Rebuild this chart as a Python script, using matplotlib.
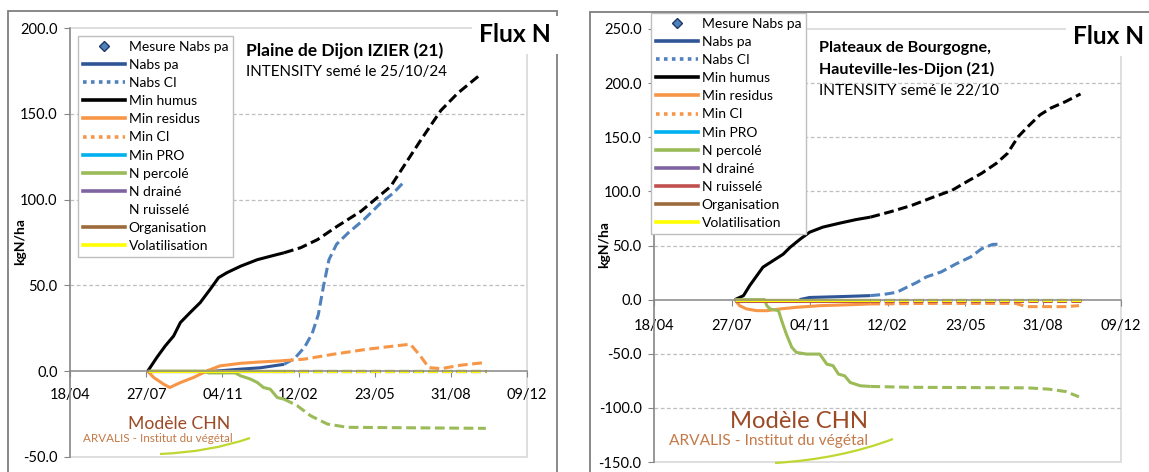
import numpy as np
import matplotlib
matplotlib.use("Agg")
import matplotlib.pyplot as plt
from matplotlib.lines import Line2D
from matplotlib.patches import Rectangle, PathPatch
from matplotlib.path import Path

plt.rcParams['font.family'] = ['Lato', 'DejaVu Sans']

# ==========================================
# DONNEES (jours depuis le 18/04/2024)
# ==========================================
x_ticks = [0, 100, 200, 300, 400, 500, 600]
x_tick_labels = ["18/04", "27/07", "04/11", "12/02", "23/05", "31/08", "09/12"]

# --- Graphique gauche : Plaine de Dijon IZIER ---
coupure_g = 281
debut_g, fin_g = 102, 546

humus_g_j = [102, 114, 125, 136, 145, 158, 171, 184, 195, 206, 224, 246, 272, 281,
             303, 325, 351, 382, 421, 439, 461, 487, 509, 540]
humus_g_v = [0, 8, 14.7, 20.5, 28.4, 34.3, 40, 47.7, 54.5, 57.4, 61.2, 65, 68, 69,
             72, 76.7, 84.5, 93.2, 107.7, 120, 135, 152, 162, 173.3]

nabs_g_j = [190, 224, 250, 267, 281, 295, 308, 318, 326, 333, 340, 350, 365, 386, 408, 425, 439]
nabs_g_v = [0, 1.2, 2, 3.1, 4, 7.5, 14, 22, 33, 50, 65, 74, 80.5, 88.4, 98, 104, 110.6]

resid_g_j = [102, 110, 123, 131, 145, 162, 180, 197, 224, 250, 276, 281,
             307, 346, 390, 434, 447, 460, 471, 487, 513, 544]
resid_g_v = [0, -3.7, -7.6, -9.5, -6.6, -3.7, 0.2, 3.1, 4.6, 5.4, 6, 6.2,
             7, 9.9, 12.8, 15.1, 15.7, 8.9, 2.1, 1.5, 3.5, 5]

perco_g_j = [102, 176, 182, 217, 224, 237, 246, 254, 263, 272, 281, 298, 316, 338, 364, 546]
perco_g_v = [0, 0, -1, -1, -2.7, -4.6, -6.6, -9.5, -10.5, -15.3, -16.3, -20, -26, -30.8, -32.7, -33.3]

# --- Graphique droit : Plateaux de Bourgogne ---
coupure_d = 278
debut_d, fin_d = 104, 548

humus_d_j = [104, 115, 123, 132, 140, 153, 166, 175, 188, 200, 217, 239, 260, 278,
             303, 331, 360, 383, 402, 421, 440, 454, 468, 482, 496, 510, 529, 548]
humus_d_v = [0, 3.7, 13, 22, 30, 36, 42, 48.4, 56, 62.3, 67, 70.7, 74, 76.2,
             81, 87, 95, 101, 109, 116.7, 126, 135, 150.6, 161, 170.7, 177, 183, 190]

nabs_d_j = [187, 200, 240, 278, 295, 312, 325, 338, 350, 369, 388, 407, 421, 435, 444]
nabs_d_v = [0, 2, 2.8, 3.7, 4.8, 6.8, 11.5, 16, 21, 25.6, 33, 39.5, 47, 51, 51.2]

resid_d_j = [104, 110, 119, 132, 145, 162, 183, 213, 256, 278, 350, 465, 478, 530, 546]
resid_d_v = [0, -5.6, -8.6, -10.2, -10.2, -8.6, -7.1, -5.6, -4.6, -4, -3.5, -3.5, -6.5, -6.5, -5.5]

perco_d_j = [104, 142, 145, 149, 160, 164, 170, 177, 183, 196, 213, 222, 230, 237, 245,
             252, 265, 278, 330, 480, 507, 529, 546]
perco_d_v = [0, 0, -5.6, -8.6, -10.2, -19.4, -31.8, -44, -48.8, -50.3, -50.3, -59.6, -61,
             -68.8, -70.4, -76.5, -79.6, -80.2, -81, -81.5, -82.7, -84.9, -89.8]

ruiss_d_v = -1.0

# ==========================================
# STYLE
# ==========================================
W, H = 1149, 472
c_nabs = '#2F5597'
c_nabsci = '#4F81BD'
c_humus = '#000000'
c_resid = '#F79646'
c_pro = '#00B0F0'
c_perco = '#9BBB59'
c_drain = '#8064A2'
c_ruiss = '#C0504D'
c_orga = '#9C6B3C'
c_vola = '#FFFF00'
LW = 2.2
TIRETS = (0, (3.2, 1.5))


def fx(x):
    return x / W


def fy(y):
    return 1 - y / H


def trace(ax, jours, valeurs, couleur, coupure, couleur_prev=None, z=2):
    """Trait plein jusqu'a la date de coupure, tirets ensuite."""
    j = np.asarray(jours, float)
    v = np.asarray(valeurs, float)
    vc = np.interp(coupure, j, v)
    m1 = j < coupure
    m2 = j > coupure
    if m1.any():
        ax.plot(np.r_[j[m1], coupure], np.r_[v[m1], vc], color=couleur, lw=LW,
                solid_capstyle='butt', solid_joinstyle='round', zorder=z)
    if m2.any():
        ax.plot(np.r_[coupure, j[m2]], np.r_[vc, v[m2]], color=couleur_prev or couleur,
                lw=LW, ls=TIRETS, dash_capstyle='butt', zorder=z)


def legende(ax, x0, y0, ruiss_visible):
    h = [
        Line2D([], [], marker='D', ls='none', mfc=c_nabsci, mec='#1F3864', ms=5, mew=1),
        Line2D([], [], color=c_nabs, lw=2.6),
        Line2D([], [], color=c_nabsci, lw=2.6, ls=(0, (1, 1.2))),
        Line2D([], [], color=c_humus, lw=2.6),
        Line2D([], [], color=c_resid, lw=2.6),
        Line2D([], [], color=c_resid, lw=2.6, ls=(0, (1, 1.2))),
        Line2D([], [], color=c_pro, lw=2.6),
        Line2D([], [], color=c_perco, lw=2.6),
        Line2D([], [], color=c_drain, lw=2.6),
        Line2D([], [], color=c_ruiss if ruiss_visible else 'none', lw=2.6),
        Line2D([], [], color=c_orga, lw=2.6),
        Line2D([], [], color=c_vola, lw=2.6),
    ]
    noms = ["Mesure Nabs pa", "Nabs pa", "Nabs CI", "Min humus", "Min residus", "Min CI",
            "Min PRO", "N percolé", "N drainé", "N ruisselé", "Organisation", "Volatilisation"]
    leg = ax.legend(h, noms, loc='upper left', bbox_to_anchor=(fx(x0), fy(y0)),
                    bbox_transform=ax.figure.transFigure, borderaxespad=0, fontsize=10,
                    handlelength=3.0, handletextpad=0.3, labelspacing=0.44, borderpad=0.35,
                    numpoints=1, frameon=True, fancybox=False, framealpha=1)
    leg.get_frame().set_edgecolor('#bfbfbf')
    leg.get_frame().set_linewidth(1)
    leg.set_zorder(10)


def habillage(ax, ymin, ymax, pas):
    ax.set_xlim(0, 600)
    ax.set_ylim(ymin, ymax)
    ax.set_xticks(x_ticks)
    ax.set_xticklabels(x_tick_labels)
    ax.set_yticks(np.arange(ymin, ymax + 1, pas))
    ax.set_yticklabels([f"{v:.1f}" for v in np.arange(ymin, ymax + 1, pas)])
    ax.tick_params(axis='both', labelsize=10.5, color='#868686', length=4, direction='out')
    ax.tick_params(axis='y', pad=5)
    ax.tick_params(axis='x', pad=8)
    ax.spines['bottom'].set_position(('data', 0))
    for s in ['top', 'right']:
        ax.spines[s].set_visible(False)
    for s in ['left', 'bottom']:
        ax.spines[s].set_color('#868686')
        ax.spines[s].set_linewidth(1.1)
    ax.add_patch(Rectangle((0, 0), 1, 1, transform=ax.transAxes, fill=False,
                           ec='#d9d9d9', lw=1.2, zorder=0.5, clip_on=False))
    for v in np.arange(ymin + pas, ymax, pas):
        if v != 0:
            ax.axhline(v, color='#bfbfbf', lw=0.9, ls=(0, (3, 2)), zorder=0.6)


def texte(x, y, s, largeur, **kw):
    t = fig.text(fx(x), fy(y), s, va='center', **kw)
    r = fig.canvas.get_renderer()
    for _ in range(3):
        w = t.get_window_extent(r).width
        t.set_fontsize(t.get_fontsize() * largeur / w)
    return t


def swoosh(p0, p1, p2):
    pts = [(fx(p[0]), fy(p[1])) for p in (p0, p1, p2)]
    chemin = Path(pts, [Path.MOVETO, Path.CURVE3, Path.CURVE3])
    fig.add_artist(PathPatch(chemin, transform=fig.transFigure, fill=False,
                             ec='#BFD730', lw=1.6))


# ==========================================
# FIGURE
# ==========================================
fig = plt.figure(figsize=(W / 100, H / 100), dpi=100)
fig.patch.set_facecolor('white')

# cadres des deux graphiques
fig.add_artist(Rectangle((fx(8), -0.05), fx(557 - 8), fy(11) + 0.05,
                         transform=fig.transFigure, fill=False, ec='#7f7f7f', lw=1.3))
fig.add_artist(Rectangle((fx(590), -0.05), 1.0, fy(12) + 0.05,
                         transform=fig.transFigure, fill=False, ec='#7f7f7f', lw=1.3))

# ---------- Graphique gauche ----------
ax1 = fig.add_axes([fx(70), fy(457), fx(527 - 70), (457 - 28) / H])
habillage(ax1, -50, 200, 50)
trace(ax1, nabs_g_j, nabs_g_v, c_nabs, coupure_g, couleur_prev=c_nabsci)
trace(ax1, humus_g_j, humus_g_v, c_humus, coupure_g)
trace(ax1, resid_g_j, resid_g_v, c_resid, coupure_g)
trace(ax1, [debut_g, fin_g], [0, 0], c_resid, coupure_g)
trace(ax1, [debut_g, fin_g], [0, 0], c_pro, coupure_g)
trace(ax1, perco_g_j, perco_g_v, c_perco, coupure_g)
trace(ax1, [debut_g, fin_g], [0, 0], c_drain, coupure_g)
trace(ax1, [debut_g, fin_g], [0, 0], c_ruiss, coupure_g)
trace(ax1, [debut_g, fin_g], [0, 0], c_orga, coupure_g)
trace(ax1, [debut_g, fin_g], [0, 0], c_vola, coupure_g)
legende(ax1, 78, 36, ruiss_visible=False)

texte(246, 51, "Plaine de Dijon IZIER (21)", 197, fontsize=11, fontweight='bold')
texte(246, 72, "INTENSITY semé le 25/10/24", 201, fontsize=11)
fl = texte(479, 35, "Flux N", 72, fontsize=17, fontweight='bold')
fl.set_bbox(dict(boxstyle='square,pad=0.3', fc='white', ec='none'))
fig.text(fx(20), fy(242), "kgN/ha", fontsize=10, fontweight='bold', rotation=90,
         ha='center', va='center')
texte(128, 424, "Modèle CHN", 102, fontsize=13, color='#9B4A25')
texte(83, 439, "ARVALIS - Institut du végétal", 149, fontsize=8, color='#C47A48')
swoosh((160, 454), (210, 452), (250, 438))

# ---------- Graphique droit ----------
ax2 = fig.add_axes([fx(654), fy(462), fx(1121 - 654), (462 - 29) / H])
habillage(ax2, -150, 250, 50)
ax2.tick_params(axis='x', pad=10)
trace(ax2, nabs_d_j, nabs_d_v, c_nabs, coupure_d, couleur_prev=c_nabsci)
trace(ax2, humus_d_j, humus_d_v, c_humus, coupure_d)
trace(ax2, resid_d_j, resid_d_v, c_resid, coupure_d)
trace(ax2, [debut_d, fin_d], [0, 0], c_resid, coupure_d)
trace(ax2, [debut_d, fin_d], [0, 0], c_pro, coupure_d)
trace(ax2, perco_d_j, perco_d_v, c_perco, coupure_d)
trace(ax2, [debut_d, fin_d], [0, 0], c_drain, coupure_d)
trace(ax2, [debut_d, fin_d], [ruiss_d_v, ruiss_d_v], c_ruiss, coupure_d)
trace(ax2, [debut_d, fin_d], [0, 0], c_orga, coupure_d)
trace(ax2, [debut_d, fin_d], [0, 0], c_vola, coupure_d)
legende(ax2, 651, 13, ruiss_visible=True)

texte(819, 48, "Plateaux de Bourgogne,", 172, fontsize=11, fontweight='bold')
texte(819, 69, "Hauteville-les-Dijon (21)", 176, fontsize=11, fontweight='bold')
texte(819, 91, "INTENSITY semé le 22/10", 180, fontsize=11)
fr = texte(1073, 37, "Flux N", 71, fontsize=17, fontweight='bold')
fr.set_bbox(dict(boxstyle='square,pad=0.3', fc='white', ec='none'))
fig.text(fx(604), fy(245), "kgN/ha", fontsize=10, fontweight='bold', rotation=90,
         ha='center', va='center')
texte(730, 422, "Modèle CHN", 138, fontsize=16, color='#9B4A25')
texte(669, 441, "ARVALIS - Institut du végétal", 199, fontsize=10, color='#C47A48')
swoosh((775, 463), (840, 459), (893, 439))

fig.savefig("out.png", dpi=100)
